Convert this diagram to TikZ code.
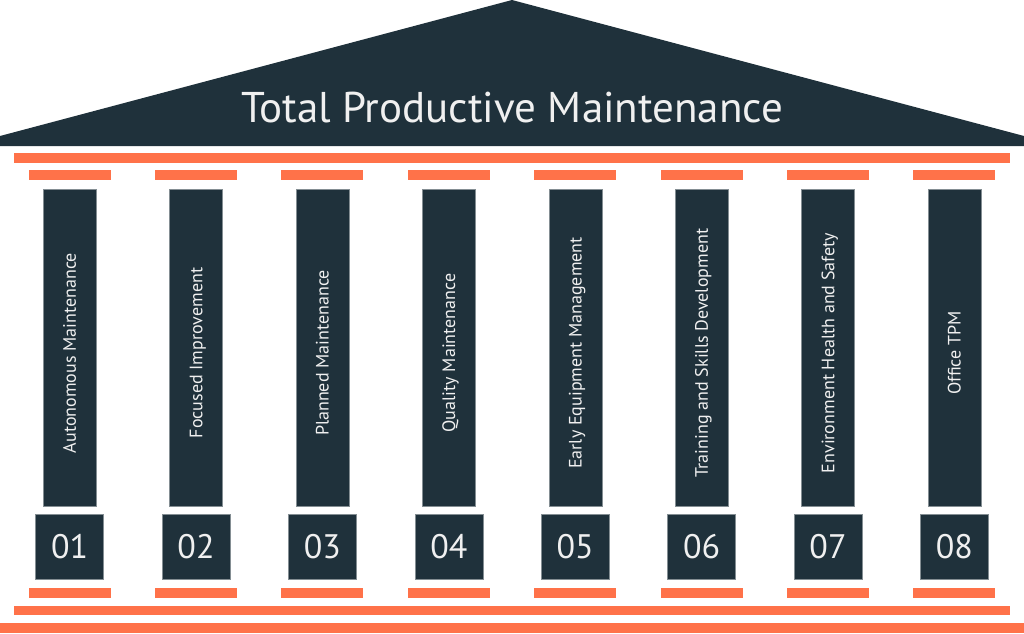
\documentclass[tikz,border=0pt]{standalone}
\usepackage{fontspec}
\setmainfont{PT Sans}

\definecolor{tpmnavy}{RGB}{31,49,59}
\definecolor{tpmorange}{RGB}{255,114,73}
\definecolor{tpmtext}{RGB}{240,240,240}

\tikzset{
  bar/.style={fill=tpmorange, draw=none, minimum height=10pt, inner sep=0pt},
  shaft/.style={fill=tpmnavy, draw=tpmnavy!55!white, line width=0.4pt,
    minimum width=53pt, minimum height=317pt, inner sep=0pt},
  numbox/.style={fill=tpmnavy, draw=tpmnavy!55!white, line width=0.4pt,
    minimum width=68pt, minimum height=65pt, inner sep=0pt, text=tpmtext,
    font=\fontsize{34}{40}\selectfont},
  pillar label/.style={rotate=90, anchor=base, inner sep=0pt, text=tpmtext,
    font=\fontsize{18}{21}\selectfont},
  title/.style={anchor=base, inner sep=0pt, text=tpmtext,
    font=\fontsize{43}{50}\selectfont}
}

\begin{document}
\begin{tikzpicture}[x=1pt,y=-1pt]
\useasboundingbox (0,0) rectangle (1024,633);

% roof
\fill[tpmnavy] (0,136) -- (512,0) -- (1024,136) -- (1024,146) -- (0,146) -- cycle;
\node[title] (roof) at (512,122) {Total Productive Maintenance};

\node[bar, minimum width=996pt] (beam) at (512,158) {};
\node[bar, minimum width=996pt, minimum height=9pt] (plinth) at (512,610.2) {};
\node[bar, minimum width=1024pt] (ground) at (512,628.2) {};

% pillars
\foreach \i/\name in {1/Autonomous Maintenance, 2/Focused Improvement,
  3/Planned Maintenance, 4/Quality Maintenance, 5/Early Equipment Management,
  6/Training and Skills Development, 7/Environment Health and Safety,
  8/Office TPM} {
  \pgfmathsetmacro{\cx}{69.6+126.4*(\i-1)}
  \node[bar, minimum width=82pt] (cap\i) at (\cx,175.4) {};
  \node[shaft] (shaft\i) at (\cx,347.3) {};
  \node[pillar label] (label\i) at (\cx+6.3,353) {\name};
  \node[numbox] (num\i) at (\cx,546.8) {0\i};
  \node[bar, minimum width=82pt] (foot\i) at (\cx,592.5) {};
}

\end{tikzpicture}
\end{document}
